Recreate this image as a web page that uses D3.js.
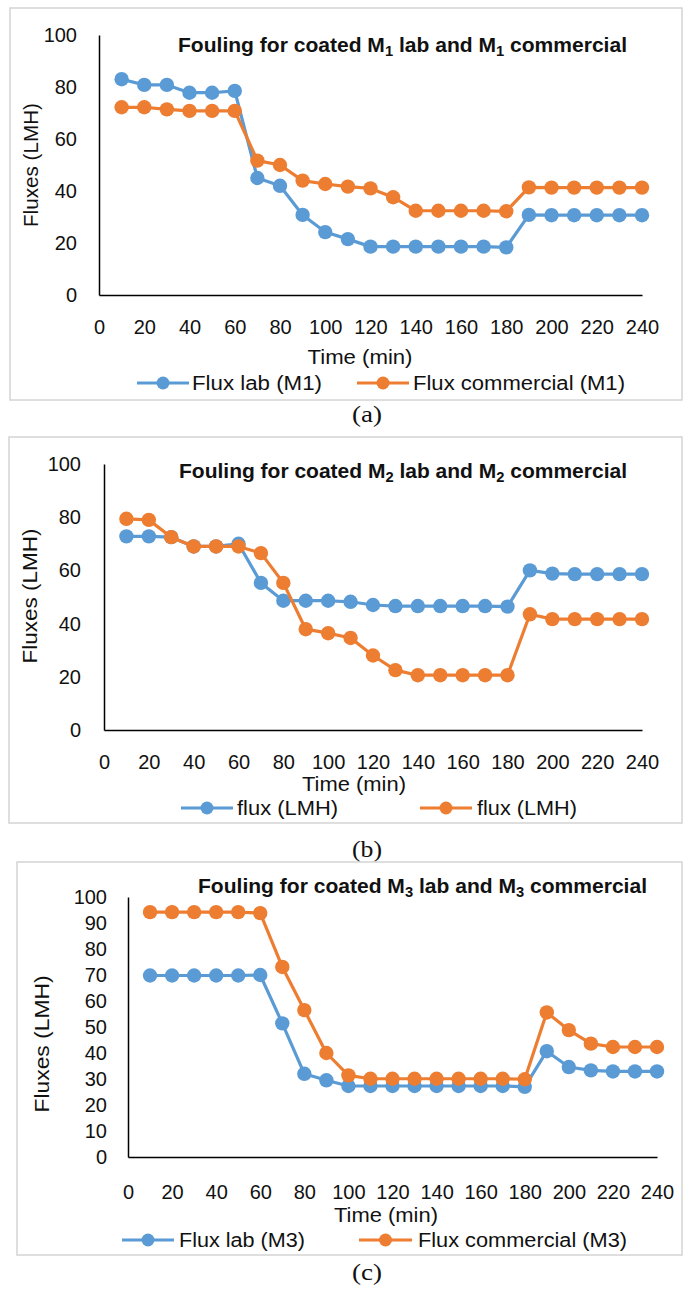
<!DOCTYPE html>
<html>
<head>
<meta charset="utf-8">
<script src="https://cdn.jsdelivr.net/npm/d3@7"></script>
<style>
  html, body { margin: 0; padding: 0; background: #fff; }
  svg { display: block; }
  text { font-family: "Liberation Sans", Arial, sans-serif; fill: #111; }
</style>
</head>
<body>
<svg id="chart" width="683" height="1291"></svg>
<script>
// ---------- DATA ----------
const times = [10,20,30,40,50,60,70,80,90,100,110,120,130,140,150,160,170,180,190,200,210,220,230,240];
const xTicks = [0,20,40,60,80,100,120,140,160,180,200,220,240];
const yTicks20 = [0,20,40,60,80,100];
const yTicks10 = [0,10,20,30,40,50,60,70,80,90,100];

const labM1 = [83,80.8,80.8,77.8,77.8,78.5,45,42,30.8,24.2,21.5,18.6,18.6,18.6,18.6,18.6,18.6,18.3,30.8,30.7,30.7,30.7,30.7,30.7];
const comM1 = [72.2,72.2,71.4,70.8,70.8,70.8,51.7,50,44,42.7,41.7,41,37.6,32.4,32.4,32.4,32.4,32.2,41.4,41.3,41.3,41.3,41.3,41.3];

const labM2 = [72.8,72.8,72.5,69,69,70,55.3,48.6,48.6,48.6,48.2,47,46.6,46.6,46.6,46.6,46.6,46.4,60,58.8,58.6,58.6,58.6,58.6];
const comM2 = [79.4,79,72.5,69,69,69,66.5,55.3,37.9,36.4,34.6,28,22.5,20.6,20.6,20.6,20.6,20.6,43.5,41.7,41.7,41.7,41.7,41.7];

const labM3 = [69.8,69.8,69.8,69.8,69.8,70,51.4,32,29.5,27.3,27.3,27.3,27.3,27.3,27.3,27.3,27.3,27,40.7,34.6,33.3,32.9,32.9,32.9];
const comM3 = [94.2,94.2,94.2,94.2,94.2,93.8,73.1,56.5,40,31.4,30.1,30.1,30.1,30.1,30.1,30.1,30.1,29.9,55.6,48.8,43.6,42.3,42.3,42.3];

const legendA = ["Flux lab (M1)", "Flux commercial (M1)"];
const legendB = ["flux (LMH)", "flux (LMH)"];
const legendC = ["Flux lab (M3)", "Flux commercial (M3)"];
const titleIdx = ["1","2","3"];
const captions = ["(a)","(b)","(c)"];

const BLUE = "#5B9BD5", ORANGE = "#ED7D31";

// ---------- LAYOUT ----------
const panels = [
  { box:[10,8,672,392], x0:99, x1:642, y0:295, y100:35, yTicks:yTicks20, yLabRight:77,
    xLabY:327, xTitleX:360, xTitleY:357, xTitleLen:105, legY:383, yTitleX:31, yTitleC:165, yTitleLen:124,
    title:{x1:178,x2:627,base:52}, leg:[[137,189,192,322],[357,409,413,625]], capY:414,
    lab:labM1, com:comM1, legend:legendA },
  { box:[9,437,673,386], x0:104, x1:642, y0:730, y100:464, yTicks:yTicks20, yLabRight:81,
    xLabY:762, xTitleX:354, xTitleY:784, xTitleLen:104, legY:808, yTitleX:30, yTitleC:596, yTitleLen:135,
    title:{x1:179,x2:627,base:478}, leg:[[181,233,237,338],[420,472,477,577]], capY:849,
    lab:labM2, com:comM2, legend:legendB },
  { box:[17,862,665,393], x0:128, x1:657, y0:1157, y100:897, yTicks:yTicks10, yLabRight:107,
    xLabY:1192, xTitleX:386, xTitleY:1215, xTitleLen:104, legY:1240, yTitleX:42, yTitleC:1044, yTitleLen:137,
    title:{x1:198,x2:647,base:893}, leg:[[122,174,179,305],[359,412,418,627]], capY:1272,
    lab:labM3, com:comM3, legend:legendC }
];

const svg = d3.select("#chart");
const FS = 20;

panels.forEach((p, i) => {
  const g = svg.append("g");
  // border
  g.append("rect").attr("x", p.box[0]).attr("y", p.box[1]).attr("width", p.box[2]).attr("height", p.box[3])
    .attr("fill", "#fff").attr("stroke", "#d4d4d4").attr("stroke-width", 1.5);

  const x = d3.scaleLinear().domain([0,240]).range([p.x0, p.x1]);
  const y = d3.scaleLinear().domain([0,100]).range([p.y0, p.y100]);

  // y axis
  const ya = g.append("g").attr("transform", `translate(${p.x0},0)`)
    .call(d3.axisLeft(y).tickValues(p.yTicks).tickSize(0).tickSizeOuter(0).tickPadding(p.x0 - p.yLabRight));
  ya.select(".domain").attr("stroke", "#000").attr("stroke-width", 1.5);
  ya.selectAll("text").attr("font-size", FS).attr("font-family", "Liberation Sans, Arial, sans-serif").attr("fill", "#111");

  // x axis
  const xa = g.append("g").attr("transform", `translate(0,${p.y0})`)
    .call(d3.axisBottom(x).tickValues(xTicks).tickSize(0).tickSizeOuter(0).tickPadding(p.xLabY - p.y0 - 0.35*FS));
  xa.select(".domain").attr("stroke", "#000").attr("stroke-width", 1.5);
  xa.selectAll("text").attr("font-size", FS).attr("font-family", "Liberation Sans, Arial, sans-serif").attr("fill", "#111");

  // x title
  g.append("text").attr("x", p.xTitleX).attr("y", p.xTitleY).attr("dy", "0.35em")
    .attr("text-anchor", "middle").attr("font-size", FS)
    .attr("textLength", p.xTitleLen).attr("lengthAdjust", "spacingAndGlyphs").text("Time (min)");

  // y title
  g.append("text").attr("transform", `translate(${p.yTitleX},${p.yTitleC}) rotate(-90)`)
    .attr("text-anchor", "middle").attr("dy", "0.35em").attr("font-size", FS)
    .attr("textLength", p.yTitleLen).attr("lengthAdjust", "spacingAndGlyphs")
    .text("Fluxes (LMH)");

  // title
  const t = g.append("text").attr("x", p.title.x1).attr("y", p.title.base)
    .attr("font-size", 20).attr("font-weight", "bold")
    .attr("textLength", p.title.x2 - p.title.x1).attr("lengthAdjust", "spacingAndGlyphs");
  t.append("tspan").text("Fouling for coated M");
  t.append("tspan").attr("font-size", 14).attr("dy", 4).text(titleIdx[i]);
  t.append("tspan").attr("dy", -4).text(" lab and M");
  t.append("tspan").attr("font-size", 14).attr("dy", 4).text(titleIdx[i]);
  t.append("tspan").attr("dy", -4).text(" commercial");

  // series
  const line = d3.line().x((d, j) => x(times[j])).y(d => y(d));
  [[p.lab, BLUE], [p.com, ORANGE]].forEach(([vals, col]) => {
    g.append("path").datum(vals).attr("d", line).attr("fill", "none")
      .attr("stroke", col).attr("stroke-width", 3.2).attr("stroke-linejoin", "round");
    g.selectAll(null).data(vals).enter().append("circle")
      .attr("cx", (d, j) => x(times[j])).attr("cy", d => y(d)).attr("r", 7.2).attr("fill", col);
  });

  // legend
  [BLUE, ORANGE].forEach((col, k) => {
    const L = p.leg[k];
    g.append("line").attr("x1", L[0]).attr("x2", L[1]).attr("y1", p.legY).attr("y2", p.legY)
      .attr("stroke", col).attr("stroke-width", 3.2);
    g.append("circle").attr("cx", (L[0]+L[1])/2).attr("cy", p.legY).attr("r", 6.5).attr("fill", col);
    g.append("text").attr("x", L[2]).attr("y", p.legY).attr("dy", "0.35em").attr("font-size", FS)
      .attr("textLength", L[3] - L[2]).attr("lengthAdjust", "spacingAndGlyphs").text(p.legend[k]);
  });

  // caption
  svg.append("text").attr("x", 367).attr("y", p.capY).attr("dy", "0.35em").attr("text-anchor", "middle")
    .attr("font-size", 23).attr("textLength", 30).attr("lengthAdjust", "spacingAndGlyphs")
    .style("font-family", "'Liberation Serif', 'Times New Roman', serif").text(captions[i]);
});
</script>
</body>
</html>
